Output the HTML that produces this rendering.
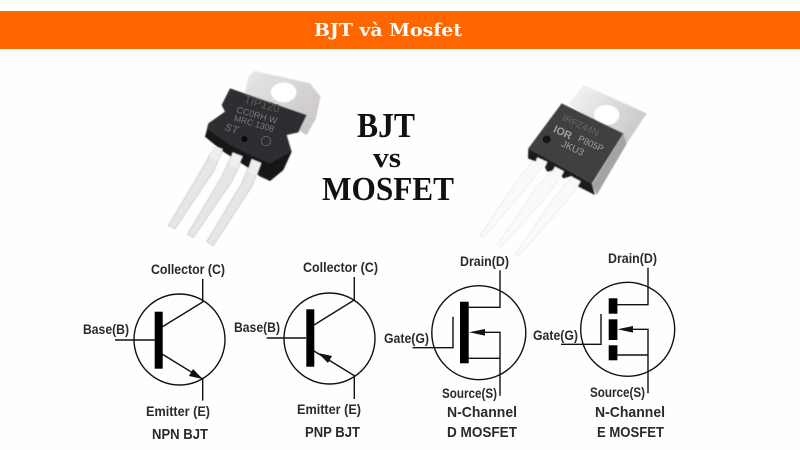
<!DOCTYPE html>
<html><head><meta charset="utf-8"><style>
html,body{margin:0;padding:0;width:800px;height:450px;overflow:hidden;background:#fff}
svg{display:block}
.l{font-family:"Liberation Sans",sans-serif;font-weight:700;font-size:13.5px;fill:#2a2a2a}
.n{font-family:"Liberation Sans",sans-serif;font-weight:700;font-size:15px;fill:#2a2a2a}
.s{fill:none;stroke:#111;stroke-width:1.4}
.t{font-family:"Liberation Serif",serif;font-weight:700;fill:#111}
</style></head><body>
<svg width="800" height="450" viewBox="0 0 800 450" xmlns="http://www.w3.org/2000/svg">
<defs>
<filter id="b"><feGaussianBlur stdDeviation="1.2"/></filter>
<linearGradient id="tab" x1="0" y1="0" x2="1" y2="1"><stop offset="0" stop-color="#e8e6e6"/><stop offset="1" stop-color="#c6c2c2"/></linearGradient>
<linearGradient id="tab2" x1="0" y1="0" x2="1" y2="0.6"><stop offset="0" stop-color="#f6f6f6"/><stop offset="1" stop-color="#c8c8c8"/></linearGradient>
</defs>
<rect width="800" height="450" fill="#fefefe"/>
<rect y="0" width="800" height="11" fill="#fff"/>
<rect y="11" width="800" height="38" fill="#ff6600"/>
<text x="388" y="36" text-anchor="middle" textLength="148" lengthAdjust="spacingAndGlyphs" font-family="'DejaVu Serif',serif" font-weight="700" font-size="18" fill="#fff">BJT và Mosfet</text>

<!-- left transistor -->
<g transform="translate(150,55) scale(.33333)">
<g filter="url(#b)">
<polygon points="297,62 315,48 480,85 512,125 498,190 470,240 280,130" fill="url(#tab)"/>
<ellipse cx="401" cy="112" rx="38" ry="30" fill="#fff"/>
<polygon points="190,280 217,290 190,350 75,522 55,512 160,335" fill="#e6e6e6" stroke="#c4c4c4" stroke-width="2"/>
<polygon points="245,300 278,312 245,380 130,548 112,538 215,365" fill="#e6e6e6" stroke="#c4c4c4" stroke-width="2"/>
<polygon points="302,318 332,330 305,395 190,572 170,560 275,385" fill="#e6e6e6" stroke="#c4c4c4" stroke-width="2"/>
<polygon points="240,100 470,180 445,232 410,240 425,290 400,345 360,378 330,365 290,335 220,290 165,245 175,205 225,170 215,150" fill="#2e2d31"/>
<polygon points="165,245 220,290 290,335 360,378 400,345 425,290 360,325 300,300 240,270 175,225" fill="#141416"/>
<polygon points="190,272 218,282 205,318 178,308" fill="#eeeeee"/>
<polygon points="248,292 278,304 262,340 235,330" fill="#eeeeee"/>
<polygon points="305,312 334,324 320,362 292,350" fill="#eeeeee"/>
</g>
<text transform="translate(280,143) rotate(16)" font-family="'Liberation Sans',sans-serif" font-size="34" fill="#5a5a5a">TIP120</text>
<text transform="translate(258,172) rotate(16)" font-family="'Liberation Sans',sans-serif" font-size="27" fill="#7a7a7a">CC0RH  W</text>
<text transform="translate(250,197) rotate(16)" font-family="'Liberation Sans',sans-serif" font-size="26" fill="#7a7a7a">MRC  1308</text>
<text transform="translate(222,225) rotate(16)" font-family="'Liberation Sans',sans-serif" font-weight="700" font-style="italic" font-size="32" fill="#6b5a5a">ST</text>
<circle cx="283" cy="252" r="9" fill="#0b0b0b"/>
<circle cx="348" cy="258" r="14" fill="none" stroke="#8a7a6a" stroke-width="2"/>
</g>

<!-- right transistor -->
<g transform="translate(460,70) scale(.33333)">
<g filter="url(#b)">
<polygon points="372,45 560,130 495,228 325,100" fill="url(#tab2)"/>
<ellipse cx="440" cy="135" rx="38" ry="30" fill="#fff"/>
<polygon points="225,265 255,278 205,345 72,502 60,496 175,325" fill="#fafafa" stroke="#d4d4d4" stroke-width="1.5"/>
<polygon points="278,300 308,312 255,385 122,532 112,524 228,355" fill="#fafafa" stroke="#d4d4d4" stroke-width="1.5"/>
<polygon points="330,328 360,342 305,410 176,560 166,552 282,385" fill="#fafafa" stroke="#d4d4d4" stroke-width="1.5"/>
<polygon points="490,190 500,222 410,375 395,345" fill="#a4a4a4"/>
<polygon points="205,235 204,265 250,285 262,305 290,300 310,325 335,318 355,350 405,375 395,340" fill="#1e1e1e"/>
<polygon points="305,100 490,190 395,342 205,235" fill="#413f42"/>
<polygon points="232,262 262,276 250,300 222,288" fill="#f8f8f8"/>
<polygon points="285,290 312,304 298,330 270,316" fill="#f8f8f8"/>
<polygon points="335,320 362,334 348,358 322,344" fill="#f8f8f8"/>
</g>
<text transform="translate(305,150) rotate(25)" font-family="'Liberation Sans',sans-serif" font-size="29" fill="#666">IRFZ44N</text>
<text transform="translate(278,185) rotate(25)" font-family="'Liberation Sans',sans-serif" font-weight="700" font-size="32" fill="#a0a0a0">IOR</text>
<text transform="translate(352,212) rotate(25)" font-family="'Liberation Sans',sans-serif" font-size="27" fill="#a0a0a0">P805P</text>
<text transform="translate(302,228) rotate(25)" font-family="'Liberation Sans',sans-serif" font-size="29" fill="#a0a0a0">JKU3</text>
<circle cx="260" cy="208" r="12" fill="#161616"/>
</g>

<!-- center title -->
<text class="t" x="386" y="137" text-anchor="middle" font-size="35" textLength="58" lengthAdjust="spacingAndGlyphs">BJT</text>
<text class="t" x="387" y="167" text-anchor="middle" font-size="29" textLength="28" lengthAdjust="spacingAndGlyphs">vs</text>
<text class="t" x="388" y="200" text-anchor="middle" font-size="34" textLength="132" lengthAdjust="spacingAndGlyphs">MOSFET</text>

<!-- NPN -->
<circle class="s" cx="179.5" cy="339.5" r="45.5"/>
<path class="s" d="M202.7 279V302L162 327M115 340H155M162 354L202.7 379V400.6"/>
<rect x="154.7" y="311.7" width="8" height="57" fill="#000"/>
<polygon points="202.7,379 189,376 193,369" fill="#111"/>
<text class="l" x="151" y="274" textLength="74" lengthAdjust="spacingAndGlyphs">Collector (C)</text>
<text class="l" x="83" y="334" textLength="46" lengthAdjust="spacingAndGlyphs">Base(B)</text>
<text class="l" x="146" y="416" textLength="64" lengthAdjust="spacingAndGlyphs">Emitter (E)</text>
<text class="n" x="152" y="439" textLength="56" lengthAdjust="spacingAndGlyphs">NPN BJT</text>

<!-- PNP -->
<circle class="s" cx="329.5" cy="338.5" r="45.5"/>
<path class="s" d="M354.3 277V300L314 325M266.7 338H306M314 351L354.3 375.7V399"/>
<rect x="306.3" y="309.3" width="8" height="57.4" fill="#000"/>
<polygon points="318,353 332,356 328,363" fill="#111"/>
<text class="l" x="303" y="272" textLength="75" lengthAdjust="spacingAndGlyphs">Collector (C)</text>
<text class="l" x="234" y="332" textLength="46" lengthAdjust="spacingAndGlyphs">Base(B)</text>
<text class="l" x="297" y="414" textLength="64" lengthAdjust="spacingAndGlyphs">Emitter (E)</text>
<text class="n" x="305" y="437" textLength="55" lengthAdjust="spacingAndGlyphs">PNP BJT</text>

<!-- D MOSFET -->
<circle class="s" cx="478.8" cy="332.7" r="47"/>
<path class="s" d="M500 270.3V307.3H468.7M475 332.3H500V395.7M468.7 358.3H500M453 316.7V347.7H412.7"/>
<rect x="460" y="301.7" width="8.7" height="61.6" fill="#000"/>
<polygon points="469,332.3 485,329 485,335.6" fill="#111"/>
<text class="l" x="460" y="266" textLength="49" lengthAdjust="spacingAndGlyphs">Drain(D)</text>
<text class="l" x="384" y="343" textLength="45" lengthAdjust="spacingAndGlyphs">Gate(G)</text>
<text class="l" x="442" y="398" textLength="55" lengthAdjust="spacingAndGlyphs">Source(S)</text>
<text class="n" x="447" y="417" textLength="70" lengthAdjust="spacingAndGlyphs">N-Channel</text>
<text class="n" x="447" y="437" textLength="70" lengthAdjust="spacingAndGlyphs">D MOSFET</text>

<!-- E MOSFET -->
<circle class="s" cx="627.7" cy="329.3" r="47"/>
<path class="s" d="M648 267.7V304.7H617.3M624 329.3H648V393.3M617.3 355H648M601 314V344.3H561"/>
<rect x="608.7" y="298.3" width="8.7" height="15.4" fill="#000"/>
<rect x="608.7" y="319.3" width="8.7" height="20.7" fill="#000"/>
<rect x="608.7" y="345.3" width="8.7" height="15" fill="#000"/>
<polygon points="617.5,329.3 633,326 633,332.6" fill="#111"/>
<text class="l" x="608" y="263" textLength="49" lengthAdjust="spacingAndGlyphs">Drain(D)</text>
<text class="l" x="533" y="340" textLength="45" lengthAdjust="spacingAndGlyphs">Gate(G)</text>
<text class="l" x="590" y="397" textLength="55" lengthAdjust="spacingAndGlyphs">Source(S)</text>
<text class="n" x="595" y="417" textLength="70" lengthAdjust="spacingAndGlyphs">N-Channel</text>
<text class="n" x="597" y="437" textLength="67" lengthAdjust="spacingAndGlyphs">E MOSFET</text>
</svg>
</body></html>
